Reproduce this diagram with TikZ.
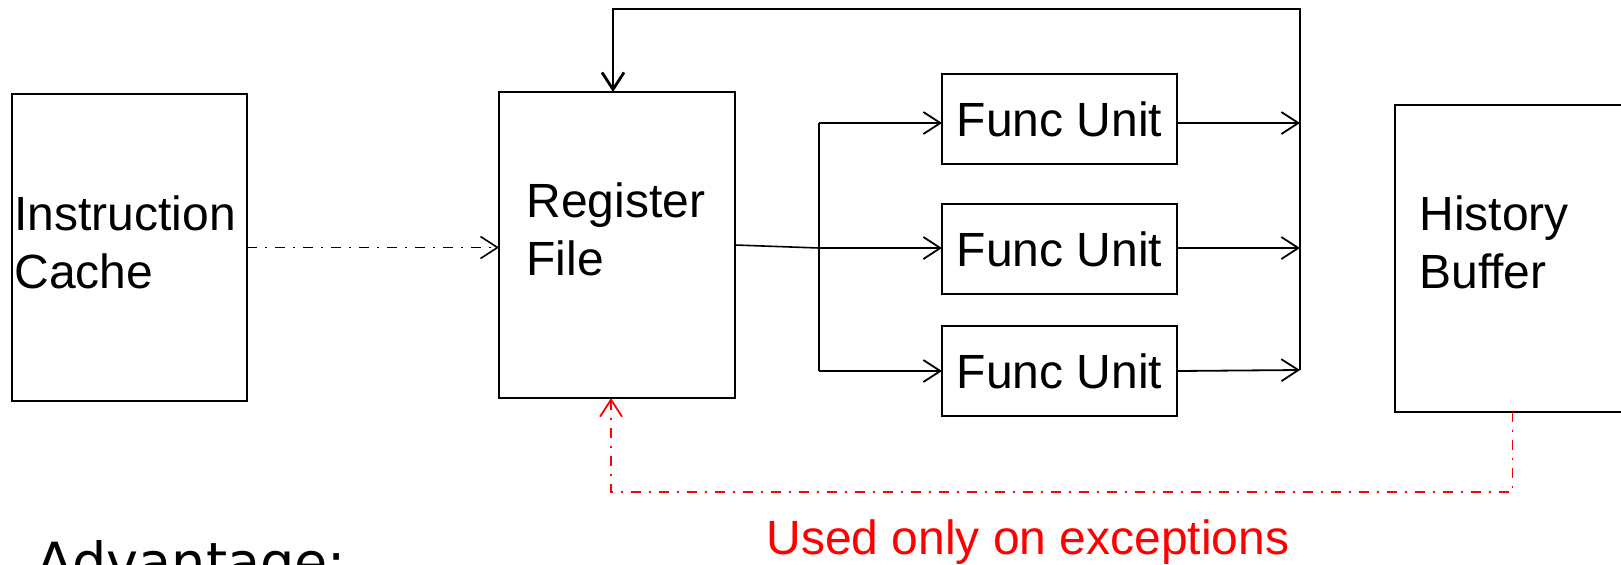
\documentclass[tikz,border=0pt]{standalone}
\usepackage{fontspec}
\setmainfont{Liberation Sans}
\newfontfamily\advfont{DejaVu Sans}
\usetikzlibrary{arrows.meta, positioning}

\begin{document}
\begin{tikzpicture}[x=0.5pt, y=-0.5pt,
			% Definizione dello stile per i blocchi
			block/.style={draw, rectangle, line width=0.8pt, inner sep=0pt, outer sep=0pt, font=\fontsize{24}{29}\selectfont},
			% Definizione dello stile per i testi
			txt/.style={inner sep=0pt, align=left, font=\fontsize{24}{29}\selectfont},
			% Definizione dello stile per le frecce
			arrow/.style={-{Straight Barb[length=8.5pt, width=11pt]}, line width=0.9pt},
			dashdot/.style={dash pattern=on 5pt off 4pt on 1pt off 4pt, line width=0.8pt},
			feedback/.style={line width=1.4pt}
			]
			\clip (0,0) rectangle (1621,564);
			
			% --- BLOCCHI ---
			\node [block, minimum width=117.5pt, minimum height=153.5pt] (icache) at (129.5,247.5) {};
			\node [block, minimum width=118pt, minimum height=153pt] (rf) at (617,245) {};
			\node [block, minimum width=117.5pt, minimum height=45pt] (fu1) at (1059.5,119) {Func Unit};
			\node [block, minimum width=117.5pt, minimum height=45pt] (fu2) at (1059.5,249) {Func Unit};
			\node [block, minimum width=117.5pt, minimum height=45pt] (fu3) at (1059.5,371) {Func Unit};
			\node [block, minimum width=117.5pt, minimum height=153.5pt] (hist) at (1512.5,258.5) {};
			
			\node [txt, anchor=north west] (icache-txt) at (14,195) {Instruction\\Cache};
			\node [txt, anchor=north west] (rf-txt) at (526,182) {Register\\File};
			\node [txt, anchor=north west] (hist-txt) at (1419,195) {History\\Buffer};
			
			% --- COLLEGAMENTI ---
			\coordinate (split) at (819,248);
			\coordinate (bus-top) at (819,123);
			\coordinate (bus-bot) at (819,371);
			\coordinate (out-top) at (1300,9);
			\coordinate (out-bot) at (1300,370);
			\coordinate (fb) at (613,9);
			\coordinate (ret) at (611,492);
			
			\draw [arrow, dashdot] (icache.east) -- (icache.east -| rf.west);
			\draw [line width=0.8pt] (rf.east) -- (split);
			\draw [line width=0.8pt] (bus-top) -- (bus-bot);
			\draw [arrow] (bus-top) -- (bus-top -| fu1.west);
			\draw [arrow] (split) -- (split -| fu2.west);
			\draw [arrow] (bus-bot) -- (bus-bot -| fu3.west);
			
			\draw [arrow] (bus-top -| fu1.east) -- (bus-top -| out-top);
			\draw [arrow] (split -| fu2.east) -- (split -| out-top);
			\draw [arrow] (fu3.east) -- (out-bot);
			\draw [arrow, feedback] (out-bot) -- (out-top) -- (fb) -- (fb |- rf.north);
			
			% ritorno in caso di eccezione
			\draw [arrow, dashdot, red, line width=0.9pt] (hist.south) -- (hist.south |- ret) -- (ret) -- (ret |- rf.south);
			\node [txt, red, anchor=base west, font=\fontsize{24}{28}\selectfont] (note) at (766,554) {Used only on exceptions};
			
			\node [inner sep=0pt, anchor=base west, font=\advfont\fontsize{27}{32}\selectfont] (adv) at (36,581) {Advantage:};
			
		\end{tikzpicture}
\end{document}
